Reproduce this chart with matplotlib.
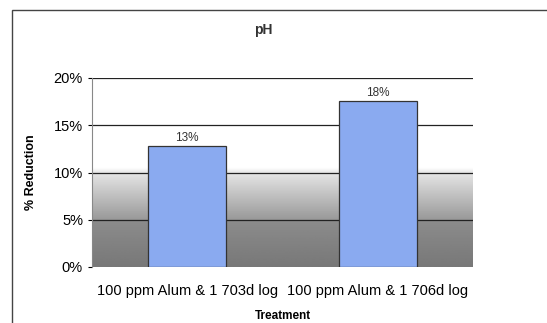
import matplotlib
matplotlib.use("Agg")
import matplotlib.pyplot as plt
import numpy as np
from matplotlib.patches import Rectangle

plt.rcParams['font.family'] = ['Liberation Sans', 'DejaVu Sans']

# reduction in pH per treatment, percent
treatments = ['100 ppm Alum & 1 703d log', '100 ppm Alum & 1 706d log']
reduction = [12.8, 17.6]
yticks = [0, 5, 10, 15, 20]

fig = plt.figure(figsize=(5.47, 3.23), dpi=100)
ax = fig.add_axes([92 / 547, 1 - 267 / 323, 381 / 547, 189 / 323])

x = np.arange(len(treatments))
ax.set_xlim(-0.5, 1.5)
ax.set_ylim(0, 20)

# grey fade behind the bars, white from 10% up
levels = np.linspace(0, 20, 400)
shade = np.interp(levels, [0, 5, 5.01, 10, 10.5, 20],
                  [0.47, 0.55, 0.60, 0.90, 1.0, 1.0])
ax.imshow(shade[:, None], cmap='gray', vmin=0, vmax=1, origin='lower',
          extent=[-0.5, 1.5, 0, 20], aspect='auto', zorder=0)

for t in yticks[1:]:
    ax.axhline(t, color='#222222', lw=0.9, zorder=1)

bars = ax.bar(x, reduction, width=0.41, color='#8aaaf0', edgecolor='#333333',
              lw=0.9, zorder=2)
for b, v in zip(bars, reduction):
    ax.text(b.get_x() + b.get_width() / 2, v + 0.2, f'{round(v)}%',
            ha='center', va='bottom', fontsize=8.5, color='#333333')

ax.set_xticks(x)
ax.set_xticklabels(treatments, fontsize=10.5)
ax.set_yticks(yticks)
ax.set_yticklabels([f'{t}%' for t in yticks], fontsize=10.5)
ax.tick_params(axis='x', length=0, pad=12)
ax.tick_params(axis='y', length=3, width=0.8)
for s in ['top', 'right', 'bottom']:
    ax.spines[s].set_visible(False)
ax.spines['left'].set_color('#888888')

ax.set_xlabel('Treatment', fontsize=8.5, fontweight='bold', labelpad=9)
ax.set_ylabel('% Reduction', fontsize=9, fontweight='bold', labelpad=12)
fig.text(263 / 547, 1 - 30 / 323, 'pH', ha='center', va='center',
         fontsize=10, fontweight='bold', color='#333333')

# chart frame
fig.patches.append(Rectangle((12 / 547, -0.1), 1.2, 1 - 10 / 323 + 0.1,
                             transform=fig.transFigure, fill=False,
                             ec='#444444', lw=1.0))

fig.savefig('out.png', dpi=100)
